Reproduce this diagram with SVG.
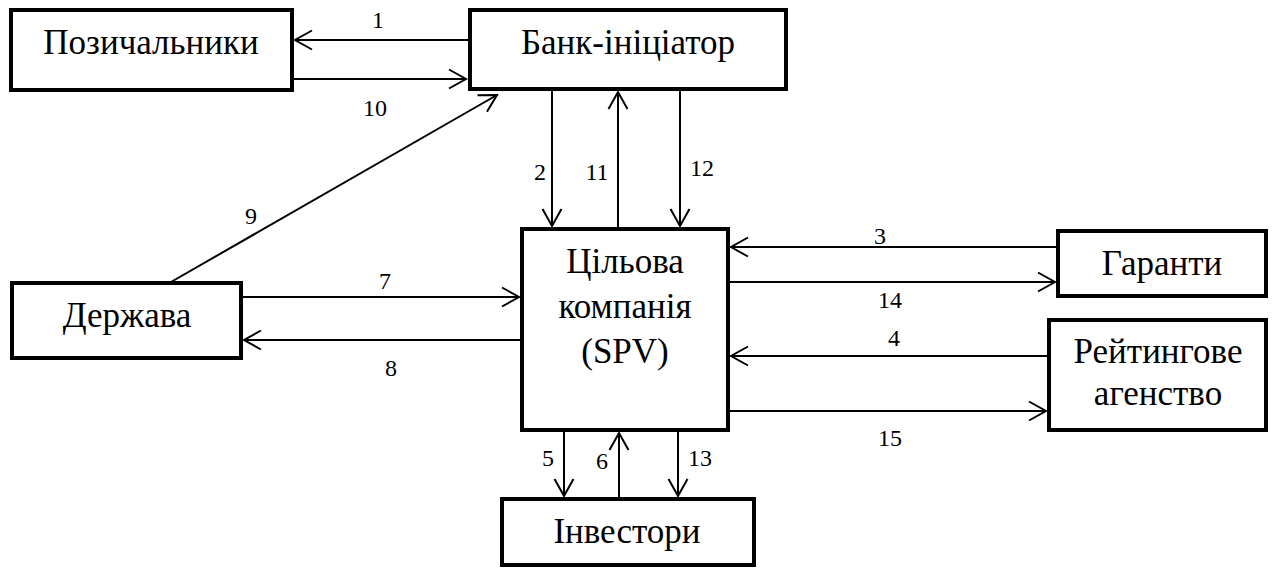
<svg xmlns="http://www.w3.org/2000/svg" width="1276" height="571" viewBox="0 0 1276 571">
<style>
.box{fill:#fff;stroke:#000;stroke-width:4}
.nt{font-size:35px;text-anchor:middle;fill:#000}
.lb{font-size:24px;text-anchor:middle;fill:#000}
.ln{fill:none;stroke:#000;stroke-width:2;marker-end:url(#ah)}
</style>
<defs>
<marker id="ah" markerUnits="userSpaceOnUse" markerWidth="24" markerHeight="24" viewBox="-20 -12 24 24" refX="0" refY="0" orient="auto">
<path d="M-17,-9.5 L0,0 L-17,9.5" fill="none" stroke="#000" stroke-width="2"/>
</marker>
</defs>
<rect width="1276" height="571" fill="#fff"/>
<g id="connectors" font-family="Liberation Serif, Times New Roman, DejaVu Serif, serif">
<line class="ln" x1="468" y1="40" x2="295" y2="40"/>
<line class="ln" x1="293" y1="79" x2="466" y2="79"/>
<line class="ln" x1="552" y1="91" x2="552" y2="226"/>
<line class="ln" x1="618" y1="227" x2="618" y2="92" stroke-width="2.5"/>
<line class="ln" x1="680" y1="91" x2="680" y2="226"/>
<line class="ln" x1="171" y1="282" x2="497" y2="95"/>
<line class="ln" x1="1056" y1="247" x2="731" y2="247"/>
<line class="ln" x1="729" y1="282" x2="1055" y2="282"/>
<line class="ln" x1="1047" y1="356" x2="731" y2="356"/>
<line class="ln" x1="729" y1="411" x2="1046" y2="411"/>
<line class="ln" x1="242" y1="297" x2="519" y2="297"/>
<line class="ln" x1="521" y1="340" x2="244" y2="340"/>
<line class="ln" x1="564" y1="432" x2="564" y2="496"/>
<line class="ln" x1="619" y1="498" x2="619" y2="433"/>
<line class="ln" x1="678" y1="432" x2="678" y2="496"/>
<text class="lb" x="378" y="28">1</text>
<text class="lb" x="375" y="116">10</text>
<text class="lb" x="540" y="180">2</text>
<text class="lb" x="597" y="180">11</text>
<text class="lb" x="702" y="176">12</text>
<text class="lb" x="251" y="224">9</text>
<text class="lb" x="880" y="244">3</text>
<text class="lb" x="890" y="308">14</text>
<text class="lb" x="894" y="346">4</text>
<text class="lb" x="890" y="446">15</text>
<text class="lb" x="385" y="289">7</text>
<text class="lb" x="391" y="376">8</text>
<text class="lb" x="548" y="466">5</text>
<text class="lb" x="602" y="469">6</text>
<text class="lb" x="700" y="466">13</text>
</g>
<g id="nodes" font-family="Liberation Serif, Times New Roman, DejaVu Serif, serif">
<g id="pozychalnyky">
<rect class="box" x="11" y="10" width="281" height="80"/>
<text class="nt" x="151" y="54">Позичальники</text>
</g>
<g id="bank">
<rect class="box" x="470" y="10" width="316" height="79"/>
<text class="nt" x="628" y="54">Банк-ініціатор</text>
</g>
<g id="spv">
<rect class="box" x="522" y="229" width="206" height="201"/>
<text class="nt" x="625" y="273">Цільова</text>
<text class="nt" x="625" y="318">компанія</text>
<text class="nt" x="625" y="363">(SPV)</text>
</g>
<g id="garanty">
<rect class="box" x="1058" y="231" width="208" height="65"/>
<text class="nt" x="1162" y="275">Гаранти</text>
</g>
<g id="reitynh">
<rect class="box" x="1049" y="320" width="217" height="110"/>
<text class="nt" x="1158" y="363">Рейтингове</text>
<text class="nt" x="1158" y="405">агенство</text>
</g>
<g id="derzhava">
<rect class="box" x="12" y="283" width="229" height="75"/>
<text class="nt" x="127" y="327">Держава</text>
</g>
<g id="investory">
<rect class="box" x="502" y="499" width="252" height="66"/>
<text class="nt" x="627" y="543">Інвестори</text>
</g>
</g>
</svg>
